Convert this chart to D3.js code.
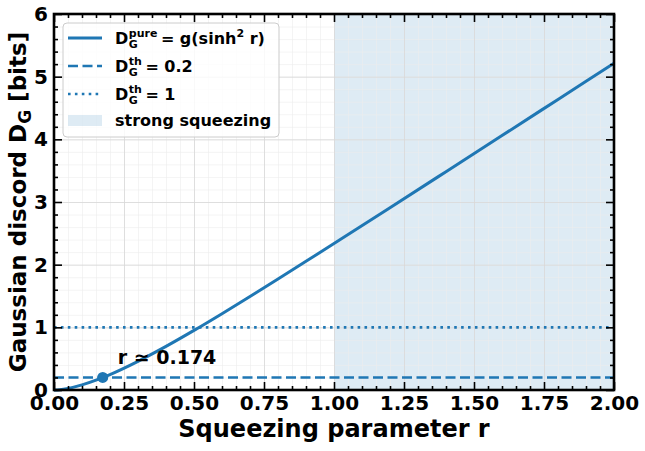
<!DOCTYPE html>
<html>
<head>
<meta charset="utf-8">
<script src="https://d3js.org/d3.v7.min.js"></script>
<style>
  body { margin: 0; background: #fff; }
  text { font-family: "DejaVu Sans", sans-serif; font-weight: bold; fill: #000; }
  .axis .domain { stroke: none; }
  .axis line { stroke: #000; stroke-width: 1.6; }
  .grid line { stroke: #d8d8d8; stroke-width: 0.8; }
  .grid .domain { stroke: none; }
  .minorgrid line { stroke: #ececec; stroke-width: 0.6; }
  .minorgrid .domain { stroke: none; }
</style>
</head>
<body>
<svg id="chart" width="645" height="451"></svg>
<script>
// values
const rVals  = [0, 0.02, 0.05, 0.1, 0.15, 0.2, 0.3, 0.4, 0.5, 0.6, 0.7, 0.8, 0.9, 1.0, 1.2, 1.4, 1.6, 1.8, 2.0];
const dPure  = [0, 0.005, 0.025, 0.081, 0.157, 0.247, 0.458, 0.696, 0.951, 1.218, 1.492, 1.771, 2.053, 2.337, 2.909, 3.484, 4.060, 4.637, 5.214];
const thresholds = [0.2, 1];
const markR = 0.174, markD = 0.2;
const strongRange = [1, 2];
const xTicks = [0, 0.25, 0.5, 0.75, 1, 1.25, 1.5, 1.75, 2];
const yTicks = [0, 1, 2, 3, 4, 5, 6];

const blue = '#1f77b4';
const svg = d3.select('svg#chart');
const margins = {top: 14, right: 31, bottom: 61, left: 54};
const chartWidth = 645 - margins.left - margins.right;
const chartHeight = 451 - margins.top - margins.bottom;

const xScale = d3.scaleLinear().domain([0, 2]).range([0, chartWidth]);
const yScale = d3.scaleLinear().domain([0, 6]).range([chartHeight, 0]);

const chart = svg.append('g').attr('transform', `translate(${margins.left},${margins.top})`);

// shaded strong squeezing region
chart.append('rect')
  .attr('x', xScale(strongRange[0]))
  .attr('y', 0)
  .attr('width', xScale(strongRange[1]) - xScale(strongRange[0]))
  .attr('height', chartHeight)
  .attr('fill', blue).attr('fill-opacity', 0.15);

// gridlines, minor then major
const xMinor = d3.range(0, 2.0001, 0.05);
const yMinor = d3.range(0, 6.0001, 0.2);
chart.append('g').attr('class', 'minorgrid')
  .call(d3.axisBottom(xScale).tickValues(xMinor).tickSize(chartHeight).tickFormat(''));
chart.append('g').attr('class', 'minorgrid')
  .call(d3.axisLeft(yScale).tickValues(yMinor).tickSize(-chartWidth).tickFormat(''));
chart.append('g').attr('class', 'grid')
  .call(d3.axisBottom(xScale).tickValues(xTicks).tickSize(chartHeight).tickFormat(''));
chart.append('g').attr('class', 'grid')
  .call(d3.axisLeft(yScale).tickValues(yTicks).tickSize(-chartWidth).tickFormat(''));

// threshold lines
chart.append('line')
  .attr('x1', 0).attr('x2', chartWidth)
  .attr('y1', yScale(thresholds[0])).attr('y2', yScale(thresholds[0]))
  .attr('stroke', blue).attr('stroke-width', 2.6).attr('stroke-dasharray', '10,4.5');
chart.append('line')
  .attr('x1', 0).attr('x2', chartWidth)
  .attr('y1', yScale(thresholds[1])).attr('y2', yScale(thresholds[1]))
  .attr('stroke', blue).attr('stroke-width', 2.6).attr('stroke-dasharray', '2.6,4.3');

// pure state curve
const line = d3.line().x((d, i) => xScale(rVals[i])).y(d => yScale(d)).curve(d3.curveMonotoneX);
chart.append('path')
  .datum(dPure)
  .attr('d', line)
  .attr('fill', 'none').attr('stroke', blue).attr('stroke-width', 3);

// marker + annotation
chart.append('circle')
  .attr('cx', xScale(markR)).attr('cy', yScale(markD)).attr('r', 5.5).attr('fill', blue);
chart.append('text')
  .attr('x', xScale(markR) + 15).attr('y', yScale(markD) - 13)
  .style('font-size', '19px')
  .text('r \u2243 0.174');

// axes, ticks pointing inward
const minorX = xMinor.filter(v => !xTicks.some(t => Math.abs(t - v) < 1e-6));
const minorY = yMinor.filter(v => !yTicks.some(t => Math.abs(t - v) < 1e-6));

chart.append('g').attr('class', 'axis').attr('transform', `translate(0,${chartHeight})`)
  .call(d3.axisBottom(xScale).tickValues(minorX).tickSize(-4).tickFormat(''));
chart.append('g').attr('class', 'axis').attr('transform', `translate(0,${chartHeight})`)
  .call(d3.axisBottom(xScale).tickValues(xTicks).tickSize(-8).tickPadding(6).tickFormat(d3.format('.2f')))
  .selectAll('text').style('font-size', '20px');
chart.append('g').attr('class', 'axis')
  .call(d3.axisTop(xScale).tickValues(minorX).tickSize(-4).tickFormat(''));
chart.append('g').attr('class', 'axis')
  .call(d3.axisTop(xScale).tickValues(xTicks).tickSize(-8).tickFormat(''));

chart.append('g').attr('class', 'axis')
  .call(d3.axisLeft(yScale).tickValues(minorY).tickSize(-4).tickFormat(''));
chart.append('g').attr('class', 'axis')
  .call(d3.axisLeft(yScale).tickValues(yTicks).tickSize(-8).tickPadding(6).tickFormat(d3.format('d')))
  .selectAll('text').style('font-size', '20px');
chart.append('g').attr('class', 'axis').attr('transform', `translate(${chartWidth},0)`)
  .call(d3.axisRight(yScale).tickValues(minorY).tickSize(-4).tickFormat(''));
chart.append('g').attr('class', 'axis').attr('transform', `translate(${chartWidth},0)`)
  .call(d3.axisRight(yScale).tickValues(yTicks).tickSize(-8).tickFormat(''));

// frame
chart.append('rect')
  .attr('width', chartWidth).attr('height', chartHeight)
  .attr('fill', 'none').attr('stroke', '#000').attr('stroke-width', 2.6);

// axis labels
svg.append('text')
  .attr('x', margins.left + chartWidth / 2).attr('y', 437)
  .attr('text-anchor', 'middle').style('font-size', '24px')
  .text('Squeezing parameter r');

const ylab = svg.append('text')
  .attr('transform', `translate(26,${margins.top + chartHeight / 2}) rotate(-90)`)
  .attr('text-anchor', 'middle').style('font-size', '23px');
ylab.append('tspan').text('Gaussian discord D');
ylab.append('tspan').attr('dy', 5).style('font-size', '17px').text('G');
ylab.append('tspan').attr('dy', -5).text(' [bits]');

// legend
const legend = svg.append('g');
legend.append('rect')
  .attr('x', 63).attr('y', 23).attr('width', 216).attr('height', 114)
  .attr('rx', 4).attr('fill', '#fff').attr('fill-opacity', 0.8)
  .attr('stroke', '#ccc').attr('stroke-width', 1);

// draws D with stacked sub/sup, then the rest
function mathLabel(x, y, sup, rest, sq) {
  const d = legend.append('text').attr('x', x).attr('y', y).style('font-size', '16px').text('D');
  const dw = d.node().getComputedTextLength();
  const sub = legend.append('text').attr('x', x + dw + 0.5).attr('y', y + 4).style('font-size', '11px').text('G');
  const sp = legend.append('text').attr('x', x + dw + 0.5).attr('y', y - 7.5).style('font-size', '11px').text(sup);
  const w = Math.max(sub.node().getComputedTextLength(), sp.node().getComputedTextLength());
  const t = legend.append('text').attr('x', x + dw + w + 4).attr('y', y).style('font-size', '16px');
  if (sq) {
    t.append('tspan').text(rest[0]);
    t.append('tspan').attr('dy', -7).style('font-size', '11px').text('2');
    t.append('tspan').attr('dy', 7).text(rest[1]);
  } else {
    t.text(rest);
  }
}

const rows = [44, 72, 100, 126];
legend.append('line').attr('x1', 68).attr('x2', 102).attr('y1', rows[0] - 6).attr('y2', rows[0] - 6)
  .attr('stroke', blue).attr('stroke-width', 3);
legend.append('line').attr('x1', 68).attr('x2', 102).attr('y1', rows[1] - 6).attr('y2', rows[1] - 6)
  .attr('stroke', blue).attr('stroke-width', 2.6).attr('stroke-dasharray', '10,4.5');
legend.append('line').attr('x1', 68).attr('x2', 102).attr('y1', rows[2] - 6).attr('y2', rows[2] - 6)
  .attr('stroke', blue).attr('stroke-width', 2.6).attr('stroke-dasharray', '2.6,4.3');
legend.append('rect').attr('x', 68).attr('y', rows[3] - 11).attr('width', 34).attr('height', 11)
  .attr('fill', blue).attr('fill-opacity', 0.15);

mathLabel(115, rows[0], 'pure', ['= g(sinh', ' r)'], true);
mathLabel(115, rows[1], 'th', '= 0.2');
mathLabel(115, rows[2], 'th', '= 1');
legend.append('text').attr('x', 115).attr('y', rows[3]).style('font-size', '16px').text('strong squeezing');
</script>
</body>
</html>
